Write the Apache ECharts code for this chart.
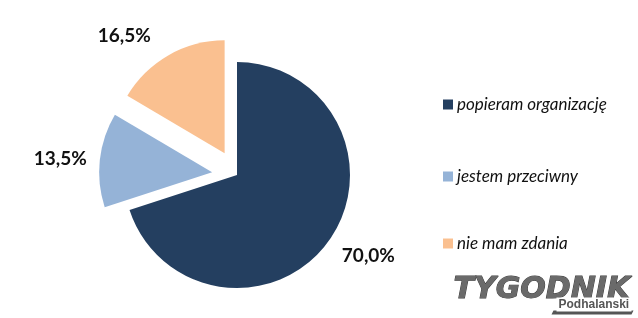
<!DOCTYPE html>
<html>
<head>
<meta charset="utf-8">
<script src="https://cdn.jsdelivr.net/npm/echarts@6/dist/echarts.min.js"></script>
<style>
html,body{margin:0;padding:0;background:#fff;}
#c{width:638px;height:318px;}
</style>
</head>
<body>
<div id="c"></div>
<script>
var categories = ['popieram organizację', 'jestem przeciwny', 'nie mam zdania'];
var values = [70.0, 13.5, 16.5];
var colors = ['#243F60', '#95B3D7', '#FAC090'];
var exploded = [false, true, true];
var labelLen = [24, 8, 22];
var labelDist = [-6, 5, 7];

var chart = echarts.init(document.getElementById('c'));

function fmt(v) { return v.toFixed(1).replace('.', ',') + '%'; }

var data = categories.map(function (name, i) {
  return {
    name: name,
    value: values[i],
    selected: exploded[i],
    itemStyle: { color: colors[i] },
    label: { distanceToLabelLine: labelDist[i] },
    labelLine: { show: false, length: labelLen[i], length2: 0 }
  };
});

var legendTops = [96, 168, 235];
var legends = categories.map(function (name, i) {
  return {
    data: [name],
    orient: 'vertical',
    left: 443,
    top: legendTops[i],
    padding: 0,
    itemWidth: 10,
    itemHeight: 10,
    itemGap: 0,
    icon: 'rect',
    selectedMode: false,
    textStyle: { fontFamily: 'Lato', fontStyle: 'italic', fontSize: 17, color: '#111', padding: [0, 0, 0, -1] }
  };
});

chart.setOption({
  animation: false,
  backgroundColor: '#fff',
  legend: legends,
  series: [{
    type: 'pie',
    center: [237, 175],
    radius: 113,
    startAngle: 90,
    clockwise: true,
    selectedMode: 'multiple',
    selectedOffset: 25,
    avoidLabelOverlap: false,
    emphasis: { disabled: true },
    label: {
      show: true,
      position: 'outside',
      formatter: function (p) { return fmt(p.value); },
      fontFamily: 'Lato',
      fontWeight: 'bold',
      fontSize: 19,
      color: '#111'
    },
    labelLine: { show: false },
    data: data
  }],
  graphic: [{
    type: 'group',
    left: 453,
    top: 275,
    silent: true,
    children: [
      { type: 'text', x: 0, y: 0, style: { text: 'TYGODNIK', font: 'italic 900 30px "DejaVu Sans"', fill: '#6a6a6a', stroke: '#3a3a3a', lineWidth: 1 } },
      { type: 'polygon', shape: { points: [[100, 35], [180, 35], [178, 39], [98, 39]] }, style: { fill: '#555' } },
      { type: 'rect', shape: { x: 103, y: 22, width: 75, height: 14 }, style: { fill: '#fff' } },
      { type: 'text', x: 105, y: 23, style: { text: 'Podhalanski', font: 'bold 12px "Liberation Sans"', fill: '#555' } }
    ]
  }]
});
</script>
</body>
</html>
